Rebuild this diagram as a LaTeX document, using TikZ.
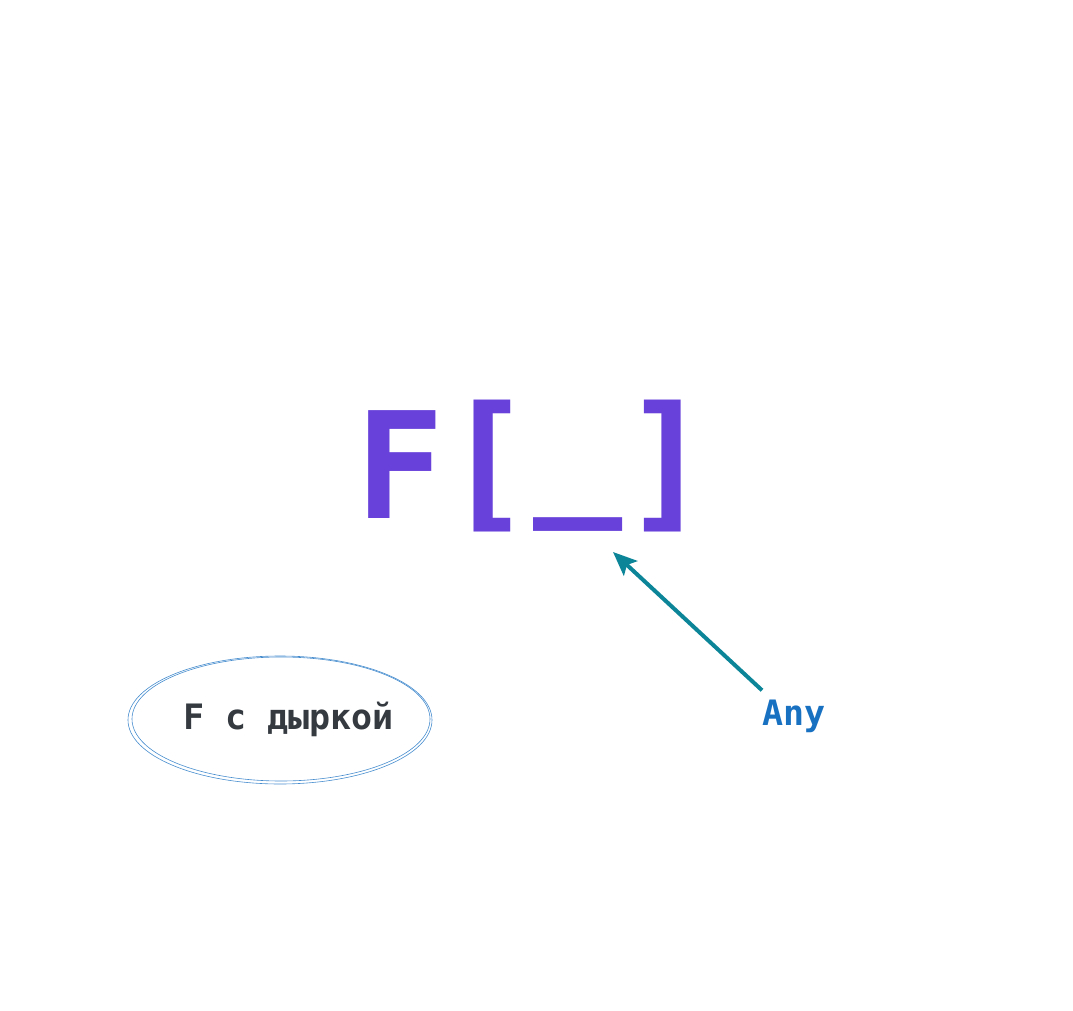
\documentclass[tikz,border=0pt]{standalone}
\usepackage{fontspec}
\setmonofont{DejaVu Sans Mono}
\usetikzlibrary{arrows.meta, calc}

\definecolor{holeviolet}{HTML}{6741D9}
\definecolor{anyteal}{HTML}{0C8599}
\definecolor{anyblue}{HTML}{1971C2}
\definecolor{notegray}{HTML}{343A40}

\tikzset{
  bigtype/.style={inner sep=0pt, anchor=base west, text=holeviolet,
    font=\ttfamily\bfseries\fontsize{148}{148}\selectfont},
  notetext/.style={inner sep=0pt, anchor=base west, text=notegray,
    font=\ttfamily\bfseries\fontsize{35}{35}\selectfont},
  anytext/.style={inner sep=0pt, anchor=base west, text=anyblue,
    font=\ttfamily\bfseries\fontsize{35}{35}\selectfont},
  sketchline/.style={draw=anyblue!80, line width=0.6pt},
  pointer/.style={draw=anyteal, line width=4pt, -{Stealth[length=24pt, width=20pt, inset=5pt]}}
}

\begin{document}
\begin{tikzpicture}[x=1pt, y=-1pt]
		%page frame
		\useasboundingbox (0,0) rectangle (1073,1011);
		
		%main type, one glyph per node
		\node [bigtype] (hF) at (355,518) {F};
		\node [bigtype] (hopen) at (443,512) {[};
		\node [bigtype] (hhole) at (533,496) {\_};
		\node [bigtype] (hclose) at (622,512) {]};
		\coordinate (gap) at (613,552);
		
		%note with sketchy ellipse
		\node [notetext] (note) at (183,729) {F с дыркой};
		\draw [sketchline] (280,720) ellipse [x radius=152, y radius=64];
		\draw [sketchline] (281,719) ellipse [x radius=149, y radius=62];
		
		%label and pointer
		\node [anytext] (any) at (762,725) {Any};
		\draw [pointer] ($(any.north west)+(0,-9)$) -- (gap);
		
	\end{tikzpicture}
\end{document}
